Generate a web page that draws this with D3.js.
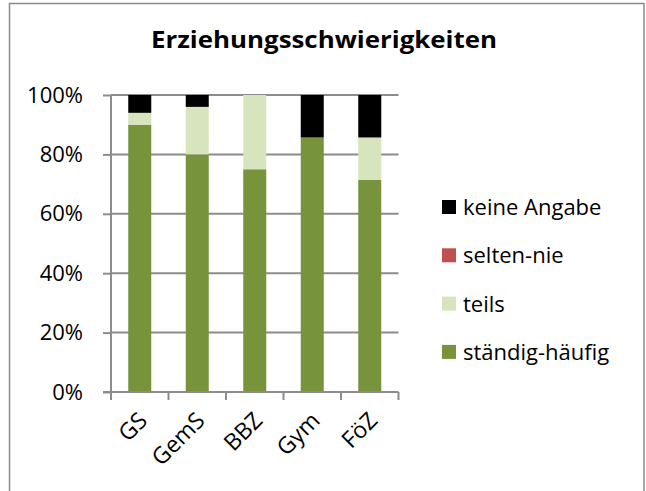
<!DOCTYPE html>
<html>
<head>
<meta charset="utf-8">
<script src="https://cdn.jsdelivr.net/npm/d3@7"></script>
<style>
  body { margin: 0; background: #fff; }
  text { font-family: "Open Sans", Lato, sans-serif; fill: #000; }
</style>
</head>
<body>
<svg id="chart" width="646" height="491"></svg>
<script>
"use strict";

// values in percent
const categories = ["GS", "GemS", "BBZ", "Gym", "FöZ"];
const staendigHaeufig = [90, 80, 75, 85.7, 71.4];
const teils = [4, 16, 25, 0, 14.3];
const seltenNie = [0, 0, 0, 0, 0];
const keineAngabe = [6, 4, 0, 14.3, 14.3];
const seriesNames = ["ständig-häufig", "teils", "selten-nie", "keine Angabe"];
const seriesColors = ["#77933C", "#D7E4BD", "#C0504D", "#000000"];
const yTicks = [0, 0.2, 0.4, 0.6, 0.8, 1.0];

const plotLeft = 111, plotRight = 398.5;
const plotTop = 95, plotBottom = 392;

function init() {
    const svg = d3.select("svg#chart");

    // chart frame (bottom edge is cut off in the original)
    svg.append("rect")
        .attr("x", 9.5).attr("y", 3.5)
        .attr("width", 634.5).attr("height", 520)
        .attr("fill", "none")
        .attr("stroke", "#8a8a8a")
        .attr("stroke-width", 1.5);

    svg.append("text")
        .attr("x", 324).attr("y", 48)
        .attr("text-anchor", "middle")
        .attr("font-size", 23)
        .attr("font-weight", "bold")
        .attr("textLength", 346)
        .attr("lengthAdjust", "spacingAndGlyphs")
        .text("Erziehungsschwierigkeiten");

    const xScale = d3.scaleBand()
        .domain(categories)
        .range([plotLeft, plotRight])
        .paddingInner(0.6)
        .paddingOuter(0.3);
    const yScale = d3.scaleLinear()
        .domain([0, 1])
        .range([plotBottom, plotTop]);

    // gridlines
    svg.append("g")
        .selectAll("line")
        .data(yTicks.slice(1))
        .join("line")
        .attr("x1", plotLeft).attr("x2", plotRight)
        .attr("y1", d => yScale(d)).attr("y2", d => yScale(d))
        .attr("stroke", "#8c8c8c")
        .attr("stroke-width", 2);

    // stacked bars
    const rows = categories.map((c, i) => ({
        cat: c,
        "ständig-häufig": staendigHaeufig[i] / 100,
        "teils": teils[i] / 100,
        "selten-nie": seltenNie[i] / 100,
        "keine Angabe": keineAngabe[i] / 100
    }));
    const stack = d3.stack().keys(seriesNames)(rows);
    const colorScale = d3.scaleOrdinal().domain(seriesNames).range(seriesColors);

    svg.append("g")
        .selectAll("g")
        .data(stack)
        .join("g")
        .attr("fill", s => colorScale(s.key))
        .selectAll("rect")
        .data(s => s)
        .join("rect")
        .attr("x", d => xScale(d.data.cat))
        .attr("width", xScale.bandwidth())
        .attr("y", d => yScale(d[1]))
        .attr("height", d => yScale(d[0]) - yScale(d[1]));

    // y axis
    const yAxis = svg.append("g")
        .attr("transform", `translate(${plotLeft},0)`)
        .call(d3.axisLeft(yScale)
            .tickValues(yTicks)
            .tickFormat(d3.format(".0%"))
            .tickSize(8)
            .tickPadding(20));
    yAxis.select(".domain").attr("stroke", "#8c8c8c").attr("stroke-width", 2)
        .attr("d", `M0,${plotTop}V${plotBottom}`);
    yAxis.selectAll(".tick line").attr("stroke", "#8c8c8c").attr("stroke-width", 2);
    yAxis.selectAll(".tick text")
        .attr("font-size", 22)
        .attr("font-family", "'Open Sans', sans-serif")
        .attr("fill", "#000");

    // x axis
    const xAxis = svg.append("g")
        .attr("transform", `translate(0,${plotBottom})`);
    xAxis.append("line")
        .attr("x1", plotLeft - 8).attr("x2", plotRight)
        .attr("stroke", "#8c8c8c").attr("stroke-width", 2);
    const step = xScale.step();
    xAxis.selectAll("line.tick")
        .data(d3.range(categories.length + 1))
        .join("line")
        .attr("class", "tick")
        .attr("x1", i => plotLeft + i * step).attr("x2", i => plotLeft + i * step)
        .attr("y1", 0).attr("y2", 8)
        .attr("stroke", "#8c8c8c").attr("stroke-width", 2);
    xAxis.selectAll("text")
        .data(categories)
        .join("text")
        .attr("transform", d => `translate(${xScale(d) + xScale.bandwidth() / 2 + 9},${30}) rotate(-45)`)
        .attr("text-anchor", "end")
        .attr("font-size", 23)
        .text(d => d);

    // legend, top entry first
    const legendItems = seriesNames.slice().reverse();
    const legend = svg.append("g")
        .selectAll("g")
        .data(legendItems)
        .join("g")
        .attr("transform", (d, i) => `translate(442,${207 + i * 48.3})`);
    legend.append("rect")
        .attr("x", 0).attr("y", -7)
        .attr("width", 14).attr("height", 14)
        .attr("fill", d => colorScale(d));
    legend.append("text")
        .attr("x", 21).attr("y", 8)
        .attr("font-size", 22)
        .text(d => d);
}

init();
</script>
</body>
</html>
